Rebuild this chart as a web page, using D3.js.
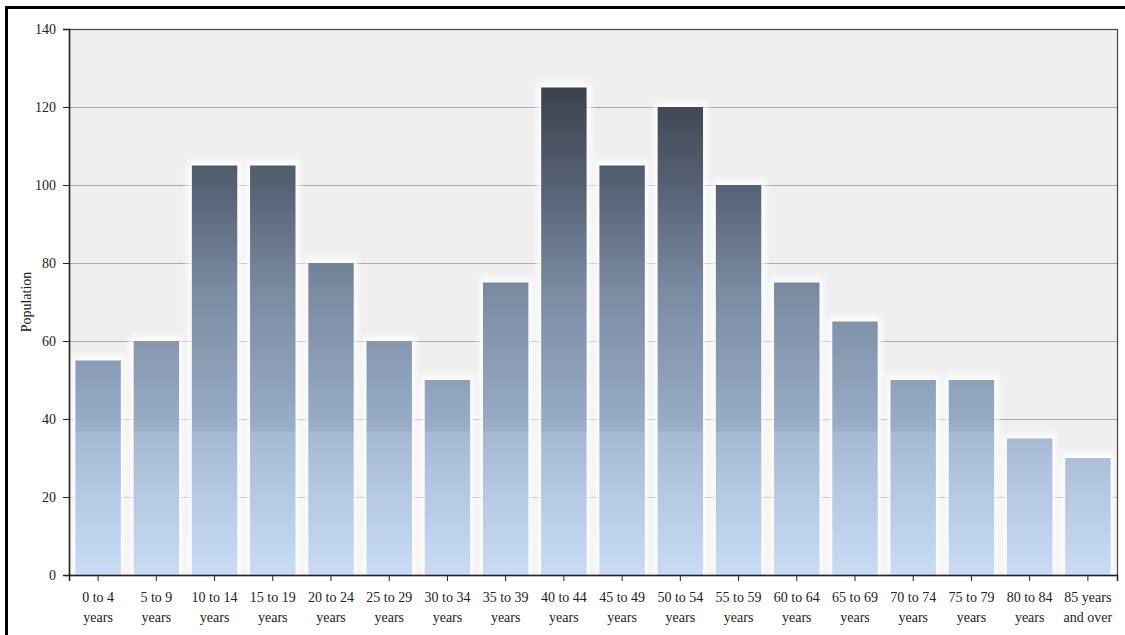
<!DOCTYPE html>
<html>
<head>
<meta charset="utf-8">
<script src="https://cdn.jsdelivr.net/npm/d3@7"></script>
<style>
  html, body { margin: 0; padding: 0; background: #fff; }
  svg { display: block; }
  text { font-family: "Liberation Serif", "DejaVu Serif", serif; fill: #222; }
</style>
</head>
<body>
<svg id="chart" width="1125" height="635"></svg>
<script>
// Population by age group
const categories = [
  ["0 to 4", "years"], ["5 to 9", "years"], ["10 to 14", "years"], ["15 to 19", "years"],
  ["20 to 24", "years"], ["25 to 29", "years"], ["30 to 34", "years"], ["35 to 39", "years"],
  ["40 to 44", "years"], ["45 to 49", "years"], ["50 to 54", "years"], ["55 to 59", "years"],
  ["60 to 64", "years"], ["65 to 69", "years"], ["70 to 74", "years"], ["75 to 79", "years"],
  ["80 to 84", "years"], ["85 years", "and over"]
];
const population = [55, 60, 105, 105, 80, 60, 50, 75, 125, 105, 120, 100, 75, 65, 50, 50, 35, 30];
const yTicks = [0, 20, 40, 60, 80, 100, 120, 140];
const yLabel = "Population";

const svg = d3.select("#chart");
const W = 1125, H = 635;
const margin = { left: 69, top: 29, right: 8, bottom: 60 };
const plotW = 1117 - margin.left;
const plotH = 575 - margin.top;

// outer frame (top and left edges visible)
svg.append("rect")
  .attr("x", 6.5).attr("y", 7.5)
  .attr("width", W + 10).attr("height", H + 10)
  .attr("fill", "#fff").attr("stroke", "#000").attr("stroke-width", 3);

const defs = svg.append("defs");
// vertical gradient spanning the whole plot height (coordinates of the plot group)
const grad = defs.append("linearGradient")
  .attr("id", "barFill")
  .attr("gradientUnits", "userSpaceOnUse")
  .attr("x1", 0).attr("x2", 0)
  .attr("y1", 0).attr("y2", plotH);
[
  [0, "#30363f"], [0.12, "#3d4450"], [0.3, "#586477"], [0.48, "#7a8ba2"],
  [0.735, "#9aaec8"], [0.738, "#a5b9d2"], [1, "#c8dcf5"]
].forEach(([o, c]) => grad.append("stop").attr("offset", o).attr("stop-color", c));

const glow = defs.append("filter").attr("id", "glow")
  .attr("x", "-20%").attr("y", "-20%").attr("width", "140%").attr("height", "140%");
glow.append("feGaussianBlur").attr("stdDeviation", 3);

const g = svg.append("g").attr("transform", `translate(${margin.left},${margin.top})`);

const x = d3.scaleBand()
  .domain(d3.range(categories.length))
  .range([0, plotW])
  .paddingInner(0.22)
  .paddingOuter(0.11);

const y = d3.scaleLinear().domain([0, 140]).range([plotH, 0]);

// plot background
g.append("rect")
  .attr("width", plotW).attr("height", plotH)
  .attr("fill", "#efefef");

// gridlines
g.append("g").selectAll("line")
  .data(yTicks.filter(d => d > 0))
  .join("line")
  .attr("x1", 0).attr("x2", plotW)
  .attr("y1", d => Math.round(y(d)) + 0.5).attr("y2", d => Math.round(y(d)) + 0.5)
  .attr("stroke", "#a9a9a9").attr("stroke-width", 1);

// soft white halo around bars
g.append("g").selectAll("rect")
  .data(population)
  .join("rect")
  .attr("x", (d, i) => x(i) - 4)
  .attr("y", d => y(d) - 5)
  .attr("width", x.bandwidth() + 8)
  .attr("height", d => plotH - y(d) + 5)
  .attr("fill", "#ffffff")
  .attr("opacity", 0.9)
  .attr("filter", "url(#glow)");

// bars
g.append("g").selectAll("rect")
  .data(population)
  .join("rect")
  .attr("x", (d, i) => x(i))
  .attr("y", d => y(d))
  .attr("width", x.bandwidth())
  .attr("height", d => plotH - y(d))
  .attr("fill", "url(#barFill)");

// plot frame
g.append("rect")
  .attr("x", 0.5).attr("y", 0.5)
  .attr("width", plotW).attr("height", plotH)
  .attr("fill", "none").attr("stroke", "#444").attr("stroke-width", 1.2);

// y axis
const yAxis = g.append("g")
  .call(d3.axisLeft(y).tickValues(yTicks).tickSize(6).tickPadding(7).tickFormat(d3.format("d")));
yAxis.select(".domain").attr("stroke", "#222").attr("stroke-width", 1.5);
yAxis.selectAll(".tick line").attr("stroke", "#222");
yAxis.selectAll("text")
  .style("font-family", '"Liberation Serif", serif')
  .style("font-size", "14px").attr("fill", "#222");

// x axis
const xAxis = g.append("g")
  .attr("transform", `translate(0,${plotH})`)
  .call(d3.axisBottom(x).tickSize(6).tickFormat(""));
xAxis.select(".domain").attr("stroke", "#222").attr("stroke-width", 1.5);
xAxis.selectAll(".tick line").attr("stroke", "#222");
xAxis.selectAll(".tick").each(function (i) {
  const t = d3.select(this).append("text")
    .attr("text-anchor", "middle")
    .style("font-size", "14px")
    .attr("fill", "#222");
  t.append("tspan").attr("x", 0).attr("y", 27).text(categories[i][0]);
  t.append("tspan").attr("x", 0).attr("y", 47).text(categories[i][1]);
});

// y axis title
svg.append("text")
  .attr("transform", `translate(31,${margin.top + plotH / 2}) rotate(-90)`)
  .attr("text-anchor", "middle")
  .style("font-size", "14px")
  .text(yLabel);
</script>
</body>
</html>
